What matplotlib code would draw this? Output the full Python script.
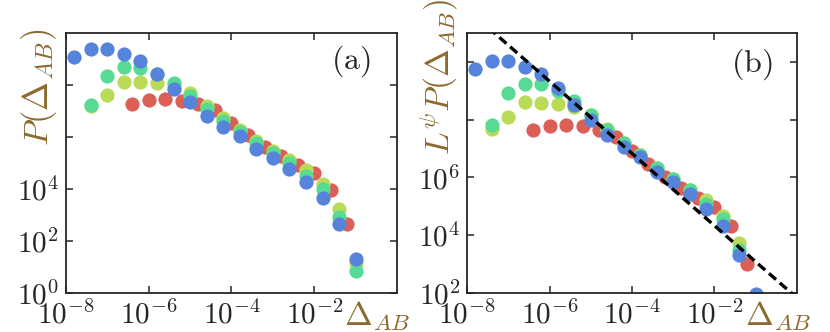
import matplotlib
matplotlib.use('Agg')
import matplotlib.pyplot as plt
import numpy as np

plt.rcParams['mathtext.fontset'] = 'cm'
plt.rcParams['font.family'] = 'serif'
plt.rcParams['font.serif'] = ['DejaVu Serif']

# data (log10 of Delta_AB, log10 of P)
x_red = [-6.4, -6.0, -5.6, -5.2, -4.8, -4.4, -4.0, -3.6, -3.2, -2.8, -2.4, -2.0, -1.6, -1.2]
p_red = [7.27, 7.42, 7.45, 7.40, 7.27, 7.02, 6.55, 6.08, 5.63, 5.27, 4.92, 4.60, 3.96, 2.64]

x_yel = [-7.4, -7.0, -6.6, -6.2, -5.8, -5.4, -5.0, -4.6, -4.2, -3.8, -3.4, -3.0, -2.6, -2.2, -1.8, -1.4, -1.0]
p_yel = [7.19, 7.60, 8.12, 8.10, 8.07, 7.95, 7.68, 7.19, 6.72, 6.28, 5.86, 5.47, 5.10, 4.73, 4.19, 3.24, 1.14]

x_grn = [-7.4, -7.0, -6.6, -6.2, -5.8, -5.4, -5.0, -4.6, -4.2, -3.8, -3.4, -3.0, -2.6, -2.2, -1.8, -1.4, -1.0]
p_grn = [7.23, 8.36, 8.68, 8.67, 8.42, 8.07, 7.59, 7.08, 6.63, 6.20, 5.76, 5.37, 4.99, 4.50, 3.99, 2.91, 0.83]

x_blu = [-7.8, -7.4, -7.0, -6.6, -6.2, -5.8, -5.4, -5.0, -4.6, -4.2, -3.8, -3.4, -3.0, -2.6, -2.2, -1.8, -1.4, -1.0]
p_blu = [9.09, 9.38, 9.37, 9.19, 8.92, 8.43, 7.85, 7.35, 6.82, 6.40, 6.05, 5.54, 5.18, 4.76, 4.27, 3.67, 2.67, 1.32]

# log10 of L^psi for each system size (shift between panel a and b)
lpsi = [0.37, 0.48, 0.57, 0.65]

# dashed power law in (b): slope and log10 prefactor
slope = -1.25
log_c = 1.83

colors = ['#db5e57', '#b9db57', '#57db94', '#5784db']
brown = '#8b6a2f'
dark = '#262626'

series = [(x_red, p_red), (x_yel, p_yel), (x_grn, p_grn), (x_blu, p_blu)]

fig = plt.figure(figsize=(8.3, 3.32), dpi=100)
ax1 = fig.add_axes([0.0795, 0.1175, 0.3988, 0.7831])
ax2 = fig.add_axes([0.5627, 0.1175, 0.3975, 0.7831])

for (xs, ps), c in zip(series, colors):
    ax1.scatter(10**np.array(xs), 10**np.array(ps), s=105, color=c, lw=0, zorder=2)
for (xs, ps), c, lp in zip(series, colors, lpsi):
    ax2.scatter(10**np.array(xs), 10**(np.array(ps) + lp), s=105, color=c, lw=0, zorder=2)

xl = np.array([1e-8, 1.0])
ax2.plot(xl, 10**log_c * xl**slope, '--', color='k', lw=2.4, dashes=(2.8, 1.5), zorder=3)

for ax in [ax1, ax2]:
    ax.set_xscale('log')
    ax.set_yscale('log')
    ax.set_xlim(1e-8, 1)
    ax.set_xticks([1e-8, 1e-6, 1e-4, 1e-2])
    ax.set_xticklabels([r'$10^{-8}$', r'$10^{-6}$', r'$10^{-4}$', r'$10^{-2}$'])
    ax.minorticks_off()
    ax.tick_params(direction='in', top=True, right=True, length=5, width=1.1,
                   labelsize=21, colors=dark, pad=5)
    for sp in ax.spines.values():
        sp.set_color(dark)
        sp.set_linewidth(1.3)

ax1.set_ylim(1, 1e10)
ax1.set_yticks([1e0, 1e2, 1e4, 1e6, 1e8])
ax1.set_yticklabels([r'$10^{0}$', r'$10^{2}$', r'$10^{4}$', '', ''])
ax1.minorticks_off()

ax2.set_ylim(1e2, 1e11)
ax2.set_yticks([1e2, 1e4, 1e6, 1e8, 1e10])
ax2.set_yticklabels([r'$10^{2}$', r'$10^{4}$', r'$10^{6}$', '', ''])
ax2.minorticks_off()

ax1.set_ylabel(r'$P(\Delta_{AB})$', color=brown, fontsize=25)
ax1.yaxis.set_label_coords(-0.022, 0.79)
ax2.set_ylabel(r'$L^{\psi}P(\Delta_{AB})$', color=brown, fontsize=24)
ax2.yaxis.set_label_coords(-0.022, 0.83)

ax1.text(1.04, -0.025, r'$\Delta_{AB}$', color=brown, fontsize=24,
         transform=ax1.transAxes, ha='right', va='top')
ax2.text(1.045, -0.025, r'$\Delta_{AB}$', color=brown, fontsize=24,
         transform=ax2.transAxes, ha='right', va='top')

ax1.text(0.86, 0.89, r'$\mathrm{(a)}$', fontsize=23, color=dark,
         transform=ax1.transAxes, ha='center', va='center')
ax2.text(0.864, 0.88, r'$\mathrm{(b)}$', fontsize=23, color=dark,
         transform=ax2.transAxes, ha='center', va='center')

fig.savefig('out.png', dpi=100)
